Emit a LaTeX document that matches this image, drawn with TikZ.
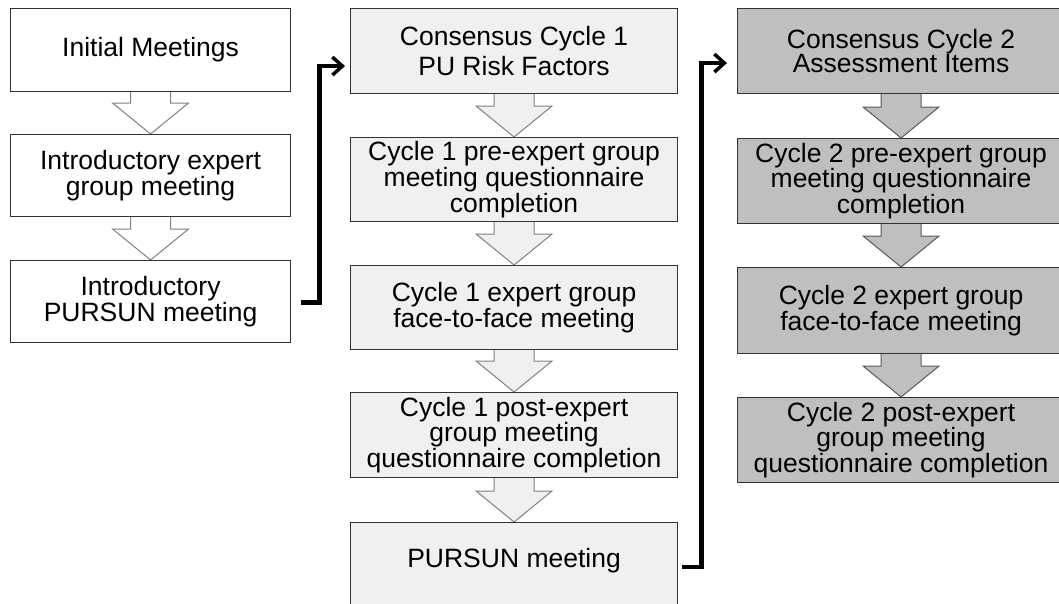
\documentclass[tikz,border=0pt]{standalone}
\usepackage{fontspec}
\setmainfont{Liberation Sans}
\usetikzlibrary{arrows.meta,calc,backgrounds}
\newcommand\blockarr[4]{%
  \filldraw[fill=#3, draw=#4, line width=1pt, line join=miter]
    ($(#1.south)+(-20,-3)$) -- ($(#2.north)+(-20,-31)$) -- ($(#2.north)+(-38,-31)$) --
    (#2.north) -- ($(#2.north)+(38,-31)$) -- ($(#2.north)+(20,-31)$) -- ($(#1.south)+(20,-3)$);}
\begin{document}
\begin{tikzpicture}[x=1pt,y=-1pt,
  box/.style={draw=black!80, line width=1.1pt, rectangle, inner sep=0pt, align=center,
    anchor=north west, text=black, font=\fontsize{26.5}{23.5}\selectfont},
  wbox/.style={box, fill=white, minimum width=280pt},
  lbox/.style={box, fill=black!6, minimum width=327pt},
  gbox/.style={box, fill=black!25, minimum width=327pt},
  conn/.style={line width=4.8pt, line join=miter,
    -{Straight Barb[length=10pt, width=18pt, line width=3.5pt]}}]
\useasboundingbox (0,0) rectangle (1059,603);
% column 1
\node[wbox, minimum height=83pt] (c1a) at (10,8) {Initial Meetings};
\node[wbox, minimum height=82pt] (c1b) at (10,134) {Introductory expert\\group meeting};
\node[wbox, minimum height=82pt] (c1c) at (10,260) {Introductory\\PURSUN meeting};
% column 2
\node[lbox, minimum height=85pt, font=\fontsize{26.5}{30}\selectfont] (c2a) at (350,8) {Consensus Cycle 1\\PU Risk Factors};
\node[lbox, minimum height=84pt] (c2b) at (350,137) {Cycle 1 pre-expert group\\meeting questionnaire\\completion};
\node[lbox, minimum height=84pt] (c2c) at (350,265) {Cycle 1 expert group\\face-to-face meeting};
\node[lbox, minimum height=85pt] (c2d) at (350,392) {Cycle 1 post-expert\\group meeting\\questionnaire completion};
\node[lbox, minimum height=90pt] (c2e) at (350,522) {};
\node[text=black, font=\fontsize{26.5}{23.5}\selectfont] (c2t) at ($(c2e.north)+(0,39)$) {PURSUN meeting};
% column 3
\node[gbox, minimum height=85pt] (c3a) at (737,8) {Consensus Cycle 2\\Assessment Items};
\node[gbox, minimum height=85pt] (c3b) at (737,138) {Cycle 2 pre-expert group\\meeting questionnaire\\completion};
\node[gbox, minimum height=86pt] (c3c) at (737,267) {Cycle 2 expert group\\face-to-face meeting};
\node[gbox, minimum height=85pt] (c3d) at (737,397) {Cycle 2 post-expert\\group meeting\\questionnaire completion};
% block arrows
\begin{scope}[on background layer]
\blockarr{c1a}{c1b}{white}{black!50}
\blockarr{c1b}{c1c}{white}{black!50}
\blockarr{c2a}{c2b}{black!6}{black!50}
\blockarr{c2b}{c2c}{black!6}{black!50}
\blockarr{c2c}{c2d}{black!6}{black!50}
\blockarr{c2d}{c2e}{black!6}{black!50}
\blockarr{c3a}{c3b}{black!25}{black!65}
\blockarr{c3b}{c3c}{black!25}{black!65}
\blockarr{c3c}{c3d}{black!25}{black!65}
\end{scope}
% connectors
\coordinate (s1) at ($(c1c.east)+(10,1)$);
\coordinate (e1) at ($(c2a.west)+(-5,15)$);
\draw[conn] (s1) -- ++(18,0) |- (e1);
\coordinate (s2) at ($(c2e.north east)+(4,45)$);
\coordinate (e2) at ($(c3a.west)+(-10,12)$);
\draw[conn] (s2) -- ++(19,0) |- (e2);
\end{tikzpicture}
\end{document}
